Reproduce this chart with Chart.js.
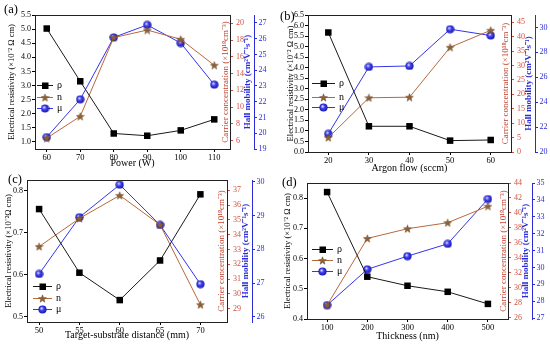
<!DOCTYPE html>
<html><head><meta charset="utf-8">
<script src="https://cdn.jsdelivr.net/npm/chart.js@4.4.1/dist/chart.umd.min.js"></script>
<style>
html,body{margin:0;padding:0;background:#fff;}
body{width:550px;height:347px;position:relative;overflow:hidden;}
canvas{position:absolute;}
</style></head>
<body>
<canvas id="ca" width="275" height="172" style="left:0;top:0"></canvas>
<canvas id="cb" width="275" height="178" style="left:275px;top:0"></canvas>
<canvas id="cc" width="275" height="175" style="left:0;top:172px"></canvas>
<canvas id="cd" width="275" height="175" style="left:275px;top:172px"></canvas>
<script>
// ---------- data (a) ----------
const powerW = [60, 70, 80, 90, 100, 110];
const rhoA = [5.02, 3.15, 1.30, 1.22, 1.41, 1.80];
const nA = [6.3, 8.9, 18.3, 19.2, 18.1, 15.0];
const muA = [19.75, 22.15, 26.08, 26.87, 25.72, 23.08];
// ---------- data (b) ----------
const argonFlow = [20, 30, 40, 50, 60];
const rhoB = [5.67, 1.22, 1.22, 0.54, 0.57];
const nB = [5.0, 18.8, 19.0, 36.3, 42.2];
const muB = [21.46, 26.83, 26.91, 29.86, 29.35];
// ---------- data (c) ----------
const distance = [50, 55, 60, 65, 70];
const rhoC = [0.756, 0.605, 0.540, 0.634, 0.791];
const nC = [33.2, 35.1, 36.66, 34.67, 29.27];
const muC = [27.27, 28.95, 29.91, 28.72, 26.97];
// ---------- data (d) ----------
const thickness = [100, 200, 300, 400, 500];
const rhoD = [0.82, 0.54, 0.51, 0.49, 0.45];
const nD = [27.7, 36.6, 37.9, 38.7, 40.9];
const muD = [27.77, 29.89, 30.67, 31.40, 34.05];

// ---------- tick labels ----------
const xTicksA = [60, 70, 80, 90, 100, 110];
const rhoTicksA = [1.0, 1.5, 2.0, 2.5, 3.0, 3.5, 4.0, 4.5, 5.0, 5.5];
const nTicksA = [6, 8, 10, 12, 14, 16, 18, 20];
const muTicksA = [19, 20, 21, 22, 23, 24, 25, 26, 27];

const xTicksB = [20, 30, 40, 50, 60];
const rhoTicksB = [0.0, 0.5, 1.0, 1.5, 2.0, 2.5, 3.0, 3.5, 4.0, 4.5, 5.0, 5.5, 6.0, 6.5];
const nTicksB = [0, 5, 10, 15, 20, 25, 30, 35, 40, 45];
const muTicksB = [20, 22, 24, 26, 28, 30];

const xTicksC = [50, 55, 60, 65, 70];
const rhoTicksC = [0.5, 0.6, 0.7, 0.8];
const nTicksC = [29, 30, 31, 32, 33, 34, 35, 36, 37];
const muTicksC = [26, 27, 28, 29, 30];

const xTicksD = [100, 200, 300, 400, 500];
const rhoTicksD = [0.4, 0.5, 0.6, 0.7, 0.8];
const nTicksD = [26, 28, 30, 32, 34, 36, 38, 40, 42, 44];
const muTicksD = [27, 28, 29, 30, 31, 32, 33, 34, 35];

const seriesNames = ['ρ', 'n', 'μ'];
const xTitles = ['Power (W)', 'Argon flow (sccm)', 'Target-substrate distance (mm)', 'Thickness (nm)'];
const panelLabels = ['(a)', '(b)', '(c)', '(d)'];
const rhoTitle = 'Electrical resistivity (×10⁻² Ω cm)';
const rhoTitleC = 'Electrical resistivity (×10⁻²Ω cm)';
const nTitle = 'Carrier concentration (×10¹⁸cm⁻³)';
const muTitle = 'Hall mobility (cm²V⁻¹s⁻¹)';

// ---------- style ----------
const FONT = '"Liberation Serif", "Times New Roman", serif';
const RED_TXT = '#d2503f';
const RED_TITLE = '#c2412e';
const BLUE = '#2b2bd8';
const N_LINE = '#b8683e';
const MU_LINE = '#3434ec';
const YT = 8.5;
const RT = 9;

function makeStar() {
  const c = document.createElement('canvas'); c.width = 9; c.height = 9;
  const g = c.getContext('2d');
  g.beginPath();
  for (let i = 0; i < 10; i++) {
    const r = i % 2 ? 1.7 : 4.1;
    const a = -Math.PI / 2 + i * Math.PI / 5;
    g.lineTo(4.5 + r * Math.cos(a), 4.9 + r * Math.sin(a));
  }
  g.closePath();
  g.fillStyle = '#8e6236'; g.fill();
  g.strokeStyle = '#6a4520'; g.lineWidth = 0.5; g.stroke();
  return c;
}
function makeBall() {
  const c = document.createElement('canvas'); c.width = 9; c.height = 9;
  const g = c.getContext('2d');
  const gr = g.createRadialGradient(3.4, 3.2, 0.3, 4.5, 4.5, 4.5);
  gr.addColorStop(0, '#d8d8ff'); gr.addColorStop(0.4, '#4040f4'); gr.addColorStop(1, '#12129c');
  g.fillStyle = gr; g.beginPath(); g.arc(4.5, 4.5, 4.1, 0, Math.PI * 2); g.fill();
  return c;
}
const starImg = makeStar();
const ballImg = makeBall();

const decor = {
  id: 'decor',
  afterDraw(chart, args, p) {
    const ctx = chart.ctx, a = chart.chartArea;
    ctx.save();
    ctx.strokeStyle = '#222'; ctx.lineWidth = 1;
    ctx.strokeRect(Math.round(a.left) + 0.5, Math.round(a.top) + 0.5, Math.round(a.right - a.left), Math.round(a.bottom - a.top));
    const cy = (a.top + a.bottom) / 2;
    ctx.textAlign = 'center'; ctx.textBaseline = 'middle';
    ctx.save(); ctx.translate(p.redTitleX, cy); ctx.rotate(-Math.PI / 2);
    ctx.fillStyle = RED_TITLE; ctx.font = RT + 'px ' + FONT; ctx.fillText(nTitle, 0, 0); ctx.restore();
    ctx.save(); ctx.translate(p.blueTitleX, cy); ctx.rotate(-Math.PI / 2);
    ctx.fillStyle = BLUE; ctx.font = 'bold ' + RT + 'px ' + FONT; ctx.fillText(muTitle, 0, 0); ctx.restore();
    const ds = chart.data.datasets;
    const L = p.legend;
    ds.forEach((d, i) => {
      const y = L.rows[i];
      ctx.strokeStyle = d.borderColor; ctx.lineWidth = 1;
      ctx.beginPath(); ctx.moveTo(L.x1, y + 0.5); ctx.lineTo(L.x2, y + 0.5); ctx.stroke();
      const mx = (L.x1 + L.x2) / 2;
      if (d.pointStyle === 'rect') { ctx.fillStyle = '#000'; ctx.fillRect(mx - 3, y - 2.5, 6.5, 6.5); }
      else { const im = d.pointStyle; ctx.drawImage(im, mx - im.width / 2, y + 0.5 - im.height / 2); }
      ctx.fillStyle = '#000'; ctx.font = '10px ' + FONT; ctx.textAlign = 'left';
      ctx.fillText(d.label, L.x2 + 4, y + 0.5);
      ctx.textAlign = 'center';
    });
    ctx.fillStyle = '#000'; ctx.font = '12.5px ' + FONT; ctx.textAlign = 'left'; ctx.textBaseline = 'alphabetic';
    ctx.fillText(p.label, p.labelX, p.labelY);
    ctx.restore();
  }
};

function ticksFrom(arr) { return s => { s.ticks = arr.map(v => ({ value: v })); }; }

function build(id, p) {
  const el = document.getElementById(id);
  const W = el.width, H = el.height, A = p.area;
  const pts = (ys) => p.xs.map((x, i) => ({ x: x, y: ys[i] }));
  const tickGrid = (c) => ({ display: true, drawOnChartArea: false, drawTicks: true, tickLength: 3, color: c });
  new Chart(el, {
    type: 'line',
    data: {
      datasets: [
        { label: seriesNames[0], data: pts(p.rho), yAxisID: 'y', borderColor: '#1a1a1a', backgroundColor: '#000',
          pointStyle: 'rect', pointRadius: 4.6, pointBorderWidth: 0, borderWidth: 1, tension: 0 },
        { label: seriesNames[1], data: pts(p.n), yAxisID: 'y1', borderColor: N_LINE, backgroundColor: N_LINE,
          pointStyle: starImg, borderWidth: 1, tension: 0 },
        { label: seriesNames[2], data: pts(p.mu), yAxisID: 'y2', borderColor: MU_LINE, backgroundColor: MU_LINE,
          pointStyle: ballImg, borderWidth: 1, tension: 0 }
      ]
    },
    options: {
      responsive: false, animation: false, events: [],
      layout: { padding: { top: A.t, left: 0, right: 0, bottom: 0 } },
      plugins: { legend: { display: false }, tooltip: { enabled: false }, decor: p },
      scales: {
        x: {
          type: 'linear', position: 'bottom', min: p.xr[0], max: p.xr[1],
          afterBuildTicks: ticksFrom(p.xTicks), afterFit: s => { s.height = H - A.b; },
          grid: tickGrid('#000'), border: { display: true, color: '#000' },
          ticks: { font: { size: 8.5, family: FONT }, color: '#000', padding: 1, maxRotation: 0, autoSkip: false },
          title: { display: true, text: p.xTitle, color: '#000', font: { size: 10, family: FONT }, padding: { top: 0, bottom: p.xtPad } }
        },
        y: {
          type: 'linear', position: 'left', min: p.yr[0], max: p.yr[1],
          afterBuildTicks: ticksFrom(p.rhoTicks), afterFit: s => { s.width = A.l; },
          grid: tickGrid('#000'), border: { display: true, color: '#000' },
          ticks: { font: { size: 8, family: FONT }, color: '#000', padding: 1, autoSkip: false, callback: v => v.toFixed(1) },
          title: { display: true, text: p.rhoTitle, color: '#000', font: { size: YT, family: FONT }, padding: { top: p.ltPad, bottom: 0 } }
        },
        y1: {
          type: 'linear', position: 'right', weight: 0, min: p.nr[0], max: p.nr[1],
          afterBuildTicks: ticksFrom(p.nTicks), afterFit: s => { s.width = p.blueX - A.r; },
          grid: tickGrid(RED_TXT), border: { display: false },
          ticks: { font: { size: 8, family: FONT }, color: RED_TXT, padding: p.redPad, autoSkip: false, callback: v => String(v) },
          title: { display: false }
        },
        y2: {
          type: 'linear', position: 'right', weight: 1, min: p.mr[0], max: p.mr[1],
          afterBuildTicks: ticksFrom(p.muTicks), afterFit: s => { s.width = W - p.blueX; },
          grid: tickGrid(BLUE), border: { display: true, color: BLUE },
          ticks: { font: { size: 8, family: FONT }, color: BLUE, padding: 1.5, autoSkip: false, callback: v => String(v) },
          title: { display: false }
        }
      }
    },
    plugins: [decor]
  });
}

build('ca', {
  xs: powerW, rho: rhoA, n: nA, mu: muA,
  xTicks: xTicksA, rhoTicks: rhoTicksA, nTicks: nTicksA, muTicks: muTicksA,
  xr: [56.5, 114.7], yr: [0.75, 5.5], nr: [5, 21], mr: [19, 27.5],
  area: { l: 35, r: 230, t: 15, b: 149 }, blueX: 254,
  xTitle: xTitles[0], rhoTitle: rhoTitle, xtPad: 3, ltPad: 7, redPad: 3,
  redTitleX: 226, blueTitleX: 248,
  legend: { rows: [85, 97, 108], x1: 37, x2: 53 },
  label: panelLabels[0], labelX: 4, labelY: 13
});
build('cb', {
  xs: argonFlow, rho: rhoB, n: nB, mu: muB,
  xTicks: xTicksB, rhoTicks: rhoTicksB, nTicks: nTicksB, muTicks: muTicksB,
  xr: [15, 65], yr: [0, 6.5], nr: [0, 47.5], mr: [20, 31],
  area: { l: 33, r: 236, t: 15, b: 152 }, blueX: 260,
  xTitle: xTitles[1], rhoTitle: rhoTitle, xtPad: 4, ltPad: 11, redPad: 3,
  redTitleX: 231, blueTitleX: 254,
  legend: { rows: [83, 97, 107], x1: 37, x2: 60 },
  label: panelLabels[1], labelX: 5, labelY: 20
});
build('cc', {
  xs: distance, rho: rhoC, n: nC, mu: muC,
  xTicks: xTicksC, rhoTicks: rhoTicksC, nTicks: nTicksC, muTicks: muTicksC,
  xr: [48.5, 73.3], yr: [0.488, 0.825], nr: [28.1, 37.7], mr: [25.85, 30.05],
  area: { l: 27, r: 227, t: 8, b: 150 }, blueX: 252,
  xTitle: xTitles[2], rhoTitle: rhoTitleC, xtPad: 6, ltPad: 4, redPad: 3,
  redTitleX: 222, blueTitleX: 246,
  legend: { rows: [114, 126, 137], x1: 33, x2: 52 },
  label: panelLabels[2], labelX: 8, labelY: 11
});
build('cd', {
  xs: thickness, rho: rhoD, n: nD, mu: muD,
  xTicks: xTicksD, rhoTicks: rhoTicksD, nTicks: nTicksD, muTicks: muTicksD,
  xr: [50, 550], yr: [0.4, 0.85], nr: [25.85, 44.0], mr: [26.95, 35.0],
  area: { l: 32, r: 233, t: 11, b: 147 }, blueX: 257,
  xTitle: xTitles[3], rhoTitle: rhoTitle, xtPad: 5, ltPad: 7.5, redPad: 3,
  redTitleX: 229, blueTitleX: 251,
  legend: { rows: [77, 88, 99], x1: 37, x2: 58 },
  label: panelLabels[3], labelX: 7, labelY: 14
});
</script>
</body></html>
